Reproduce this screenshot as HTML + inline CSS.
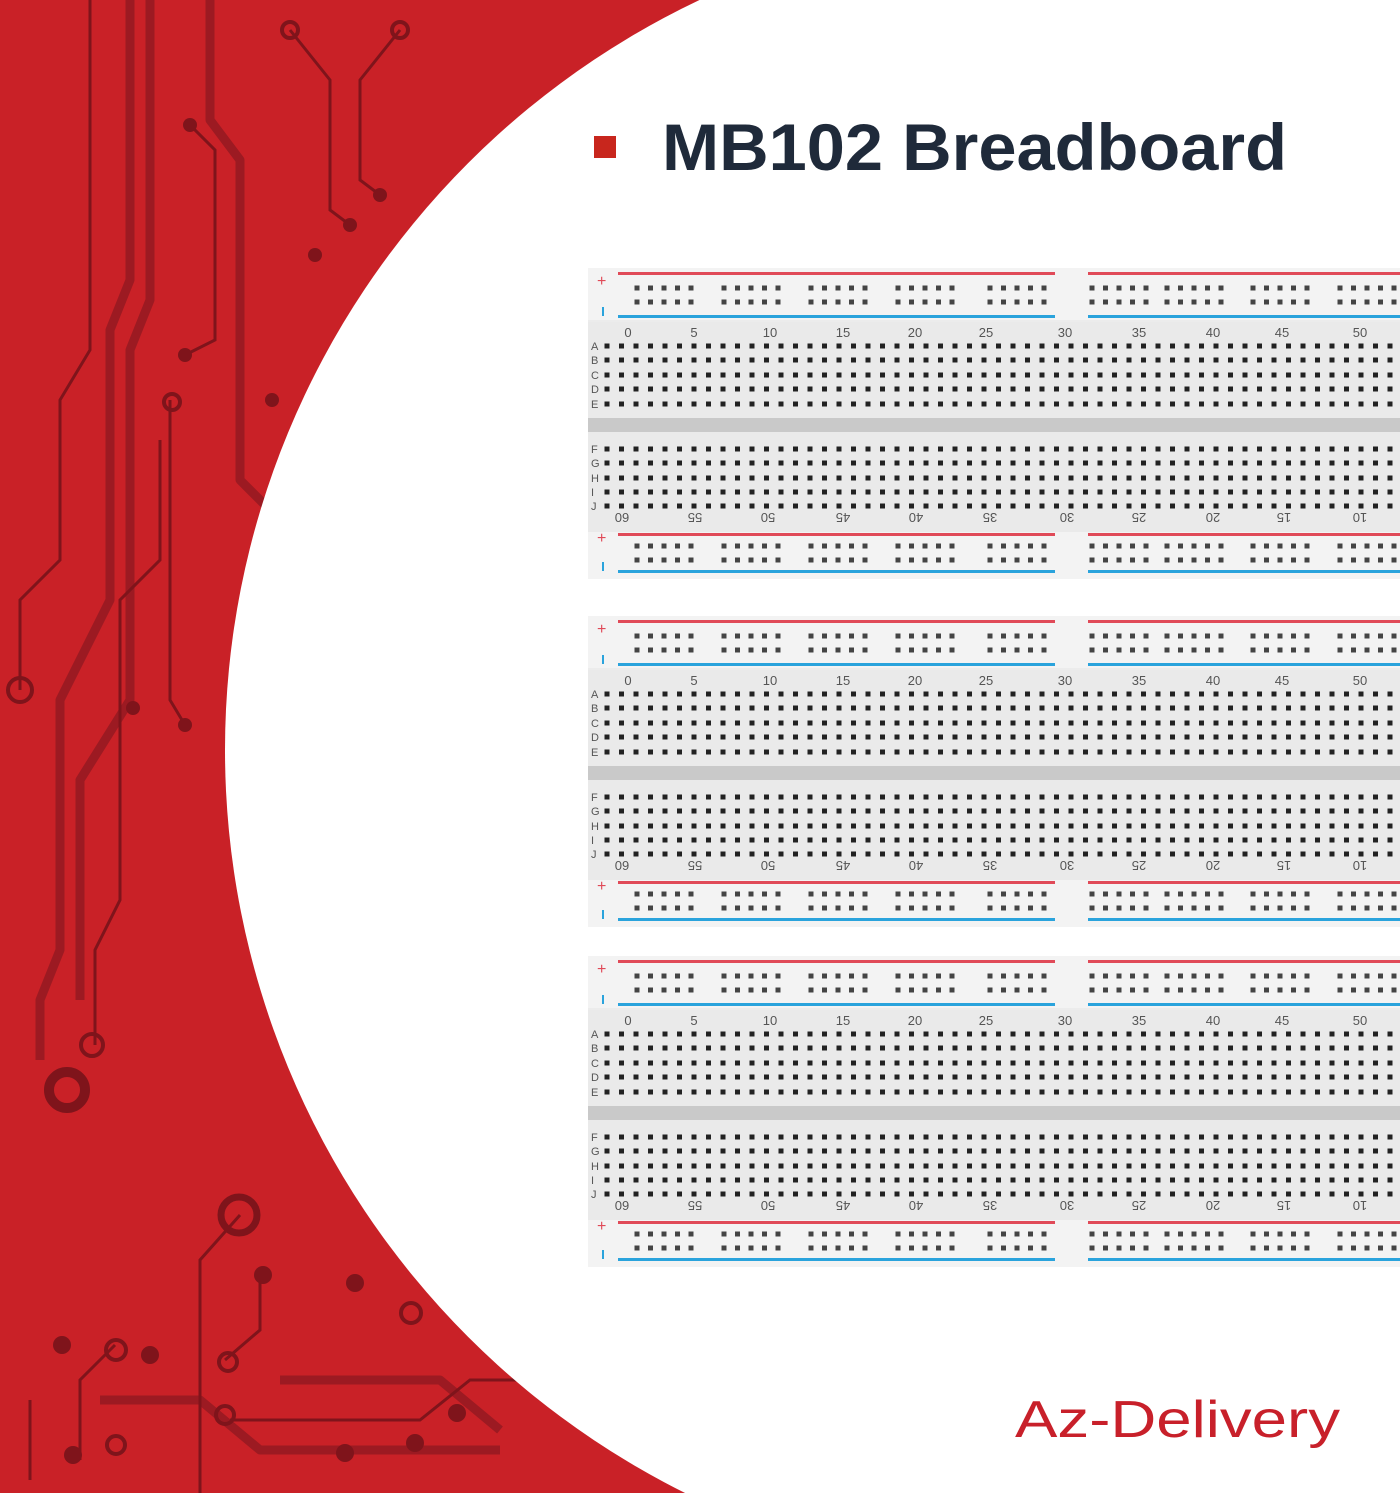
<!DOCTYPE html>
<html><head><meta charset="utf-8"><style>
html,body{margin:0;padding:0;width:1400px;height:1493px;overflow:hidden;}
body{background:#c92127;position:relative;font-family:"Liberation Sans",sans-serif;}
svg{position:absolute;left:0;top:0;display:block;}
</style></head><body>
<svg id="s" width="1400" height="1493" viewBox="0 0 1400 1493">
<rect width="1400" height="1493" fill="#c92127"/>
<g fill="none" stroke="#9c1a22" stroke-width="9" stroke-linejoin="round">
<polyline points="130,0 130,280 110,330 110,600 60,700 60,950 40,1000 40,1060"/>
<polyline points="150,0 150,300 130,350 130,700 80,780 80,1000"/>
<polyline points="210,0 210,120 240,160 240,480 270,510"/>
<polyline points="100,1400 200,1400 260,1450 500,1450"/>
<polyline points="280,1380 440,1380 500,1430"/>
</g>
<g fill="none" stroke="#7f141b" stroke-width="3">
<polyline points="290,30 330,80 330,210 350,225"/>
<polyline points="400,30 360,80 360,180 380,195"/>
<polyline points="190,125 215,150 215,340 185,355"/>
<polyline points="20,690 20,600 60,560 60,400 90,350 90,0"/>
<polyline points="170,400 170,700 185,725"/>
<polyline points="95,1045 95,950 120,900 120,600 160,560 160,440"/>
<polyline points="260,1275 260,1330 225,1360"/>
<polyline points="30,1400 30,1480"/>
<polyline points="115,1345 80,1380 80,1460"/>
<polyline points="240,1215 200,1260 200,1493"/>
<polyline points="230,1420 420,1420 470,1380 560,1380"/>
</g>
<g fill="#7f141b">
<circle cx="190" cy="125" r="7"/><circle cx="350" cy="225" r="7"/><circle cx="380" cy="195" r="7"/>
<circle cx="185" cy="355" r="7"/><circle cx="315" cy="255" r="7"/><circle cx="272" cy="400" r="7"/>
<circle cx="185" cy="725" r="7"/><circle cx="133" cy="708" r="7"/><circle cx="263" cy="1275" r="9"/>
<circle cx="62" cy="1345" r="9"/><circle cx="150" cy="1355" r="9"/><circle cx="73" cy="1455" r="9"/>
<circle cx="355" cy="1283" r="9"/><circle cx="345" cy="1453" r="9"/><circle cx="457" cy="1413" r="9"/><circle cx="415" cy="1443" r="9"/>
</g>
<g fill="none" stroke="#7f141b" stroke-width="4">
<circle cx="20" cy="690" r="12"/><circle cx="92" cy="1045" r="11"/><circle cx="67" cy="1090" r="18" stroke-width="10"/>
<circle cx="239" cy="1215" r="18" stroke-width="7"/><circle cx="290" cy="30" r="8"/><circle cx="400" cy="30" r="8"/>
<circle cx="172" cy="402" r="8"/><circle cx="228" cy="1362" r="9"/><circle cx="116" cy="1350" r="10"/><circle cx="116" cy="1445" r="9"/><circle cx="225" cy="1415" r="9"/><circle cx="411" cy="1313" r="10"/>
</g>
<circle cx="1055" cy="750" r="830" fill="#ffffff"/>
<rect x="594" y="136" width="22" height="22" fill="#c8261d"/>
<text x="662" y="170" font-family="Liberation Sans,sans-serif" font-weight="bold" font-size="66" fill="#1f2a3a" textLength="625" lengthAdjust="spacingAndGlyphs">MB102 Breadboard</text>
<text x="1015" y="1437" font-family="Liberation Sans,sans-serif" font-size="52" fill="#c8202a" textLength="325" lengthAdjust="spacingAndGlyphs">Az-Delivery</text>
<g id="boards"></g>
</svg>
<script>
var NS="http://www.w3.org/2000/svg",g=document.getElementById("boards");
function el(t,a,txt){var e=document.createElementNS(NS,t);for(var k in a)e.setAttribute(k,a[k]);if(txt!=null)e.textContent=txt;g.appendChild(e);return e;}
var tops=[268,616,956];
tops.forEach(function(y0){
 el("rect",{x:588,y:y0,width:812,height:311,fill:"#ececec"});
 el("rect",{x:588,y:y0,width:812,height:52,fill:"#f3f3f3"});
 el("rect",{x:588,y:y0+54,width:812,height:98,fill:"#eaeaea"});
 el("rect",{x:588,y:y0+150,width:812,height:14,fill:"#c9c9c9"});
 el("rect",{x:588,y:y0+164,width:812,height:100,fill:"#eaeaea"});
 el("rect",{x:588,y:y0+264,width:812,height:47,fill:"#f3f3f3"});
 [[y0+5,"#e04a58"],[y0+48,"#2aa3dc"],[y0+266,"#e04a58"],[y0+303,"#2aa3dc"]].forEach(function(l){
  el("rect",{x:618,y:l[0]-1,width:437,height:3,fill:l[1]});
  el("rect",{x:1088,y:l[0]-1,width:312,height:3,fill:l[1]});
 });
 el("text",{x:597,y:y0+18,"font-size":16,fill:"#e04a58"},"+");
 el("text",{x:597,y:y0+275,"font-size":16,fill:"#e04a58"},"+");
 el("rect",{x:602,y:y0+39,width:2,height:9,fill:"#2aa3dc"});
 el("rect",{x:602,y:y0+294,width:2,height:9,fill:"#2aa3dc"});
 var gs=[637,724,811,898,990,1092,1167,1253,1340];
 gs.forEach(function(gx){for(var i=0;i<5;i++){[20,34,278,292].forEach(function(ry){
  el("rect",{x:gx+i*13.5-2.5,y:y0+ry-2.5,width:5,height:5,fill:"#444"});});}});
 var rows=[78,92,107,121,136,181,195,210,224,238];
 for(var c=0;c<56;c++){var x=607+c*14.5;rows.forEach(function(ry){
  el("rect",{x:x-2.5,y:y0+ry-2.5,width:5,height:5,fill:"#222"});});}
 "ABCDE".split("").forEach(function(ch,i){el("text",{x:591,y:y0+rows[i]+4,"font-size":11,fill:"#555"},ch);});
 "FGHIJ".split("").forEach(function(ch,i){el("text",{x:591,y:y0+rows[i+5]+4,"font-size":11,fill:"#555"},ch);});
 var tn=[0,5,10,15,20,25,30,35,40,45,50],tx=[628,694,770,843,915,986,1065,1139,1213,1282,1360];
 tn.forEach(function(n,i){el("text",{x:tx[i],y:y0+69,"font-size":13,fill:"#555","text-anchor":"middle"},n);});
 var bn=[60,55,50,45,40,35,30,25,20,15,10],bx=[622,695,768,843,916,990,1067,1139,1213,1284,1360];
 bn.forEach(function(n,i){el("text",{x:0,y:0,"font-size":13,fill:"#555","text-anchor":"middle",transform:"translate("+bx[i]+","+(y0+245)+") rotate(180)"},n);});
});
</script>
</body></html>
